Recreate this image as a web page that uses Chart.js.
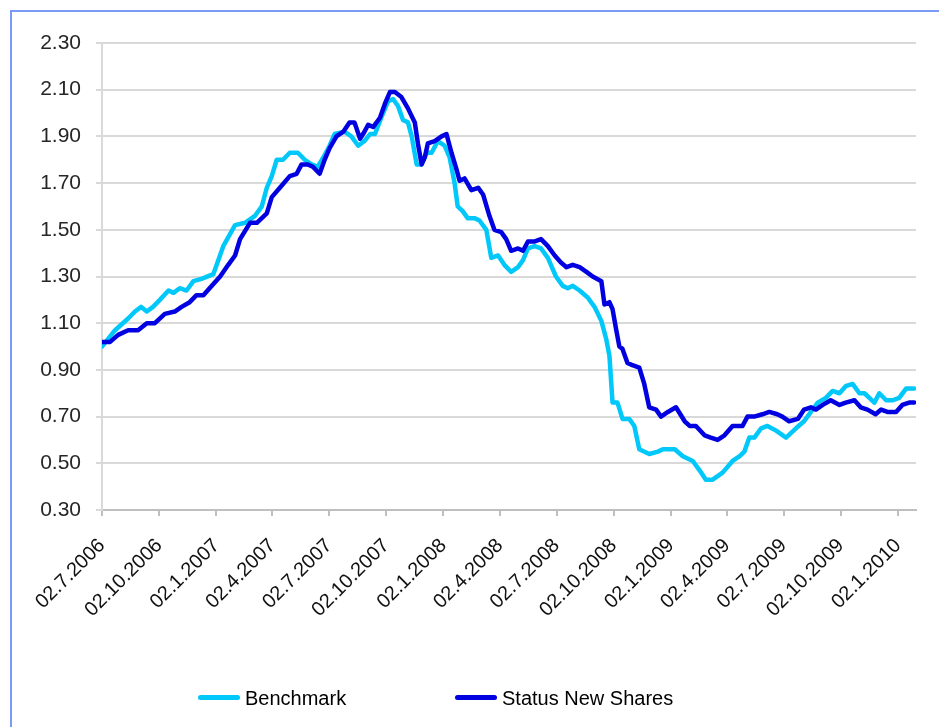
<!DOCTYPE html>
<html>
<head>
<meta charset="utf-8">
<script src="https://cdn.jsdelivr.net/npm/chart.js@4/dist/chart.umd.min.js"></script>
<style>
  html, body { margin: 0; padding: 0; background: #fff; overflow: hidden; }
  #wrap { position: relative; width: 939px; height: 727px; }
  #chart { position: absolute; left: 0; top: 0; }
  .leg { position: absolute; top: 686px; height: 24px; line-height: 24px;
         font-family: 'Liberation Sans', Arial, sans-serif; font-size: 20px; color: #000; white-space: nowrap; }
  .leg .swatch { position: absolute; top: 9px; width: 42px; height: 5px; border-radius: 3px; }
  .leg .txt { position: absolute; left: 47px; top: 0; }
</style>
</head>
<body>
<div id="wrap">
  <canvas id="chart" width="939" height="727"></canvas>
  <div class="leg" style="left:198px"><span class="swatch" style="background:#00C8FA"></span><span class="txt">Benchmark</span></div>
  <div class="leg" style="left:455px"><span class="swatch" style="background:#0000E0"></span><span class="txt">Status New Shares</span></div>
</div>
<script>
// ── Data (x = days since 02.7.2006) ────────────────────────────────────────
const START = Date.UTC(2006, 6, 2);

const xTickLabels = ['02.7.2006', '02.10.2006', '02.1.2007', '02.4.2007', '02.7.2007',
  '02.10.2007', '02.1.2008', '02.4.2008', '02.7.2008', '02.10.2008', '02.1.2009',
  '02.4.2009', '02.7.2009', '02.10.2009', '02.1.2010'];

const benchDays = [
  0, 21, 42, 53, 63, 72, 82, 93, 107, 115,
  125, 136, 147, 160, 179, 195, 214, 230, 246, 257,
  265, 273, 281, 291, 302, 315, 326, 337, 347, 358,
  366, 374, 390, 401, 412, 422, 431, 439, 449, 460,
  468, 476, 484, 492, 498, 506, 514, 522, 530, 540,
  551, 559, 567, 572, 580, 588, 599, 607, 618, 626,
  637, 647, 658, 669, 677, 685, 696, 706, 717, 730,
  741, 749, 757, 768, 781, 792, 803, 811, 816, 821,
  829, 837, 848, 856, 864, 880, 894, 902, 921, 934,
  950, 961, 971, 982, 998, 1014, 1025, 1033, 1041, 1049,
  1060, 1070, 1084, 1100, 1116, 1129, 1140, 1151, 1164, 1175,
  1186, 1196, 1207, 1218, 1226, 1234, 1242, 1250, 1261, 1271,
  1282, 1293, 1306];
const benchValues = [
  1.00, 1.07, 1.12, 1.15, 1.17, 1.15, 1.17, 1.20, 1.24, 1.23,
  1.25, 1.24, 1.28, 1.29, 1.31, 1.43, 1.52, 1.53, 1.56, 1.60,
  1.68, 1.73, 1.80, 1.80, 1.83, 1.83, 1.80, 1.78, 1.77, 1.82,
  1.86, 1.91, 1.92, 1.90, 1.86, 1.88, 1.91, 1.91, 1.98, 2.05,
  2.06, 2.03, 1.97, 1.96, 1.90, 1.78, 1.78, 1.83, 1.83, 1.88,
  1.86, 1.81, 1.70, 1.60, 1.58, 1.55, 1.55, 1.54, 1.50, 1.38,
  1.39, 1.35, 1.32, 1.34, 1.37, 1.42, 1.43, 1.42, 1.38, 1.30,
  1.26, 1.25, 1.26, 1.24, 1.21, 1.17, 1.11, 1.03, 0.96, 0.76,
  0.76, 0.69, 0.69, 0.66, 0.56, 0.54, 0.55, 0.56, 0.56, 0.53,
  0.51, 0.47, 0.43, 0.43, 0.46, 0.51, 0.53, 0.55, 0.61, 0.61,
  0.65, 0.66, 0.64, 0.61, 0.65, 0.68, 0.72, 0.76, 0.78, 0.81,
  0.80, 0.83, 0.84, 0.80, 0.80, 0.78, 0.76, 0.80, 0.77, 0.77,
  0.78, 0.82, 0.82];

const statusDays = [
  0, 13, 26, 42, 58, 72, 85, 101, 117, 128,
  141, 152, 163, 173, 190, 203, 214, 222, 238, 249,
  265, 273, 286, 302, 313, 321, 331, 339, 350, 358,
  366, 377, 388, 398, 406, 415, 422, 428, 436, 447,
  455, 463, 471, 481, 492, 503, 508, 514, 519, 524,
  535, 546, 554, 562, 570, 575, 583, 594, 605, 613,
  623, 631, 642, 650, 658, 669, 677, 685, 696, 706,
  717, 728, 738, 747, 757, 768, 779, 789, 803, 808,
  816, 821, 827, 832, 837, 845, 853, 864, 872, 880,
  891, 899, 910, 923, 937, 945, 955, 969, 979, 990,
  1001, 1014, 1030, 1038, 1049, 1062, 1073, 1086, 1094, 1105,
  1119, 1129, 1140, 1148, 1159, 1172, 1186, 1196, 1210, 1220,
  1231, 1244, 1253, 1263, 1277, 1287, 1298, 1306];
const statusValues = [
  1.02, 1.02, 1.05, 1.07, 1.07, 1.10, 1.10, 1.14, 1.15, 1.17,
  1.19, 1.22, 1.22, 1.25, 1.30, 1.35, 1.39, 1.46, 1.53, 1.53,
  1.57, 1.64, 1.68, 1.73, 1.74, 1.78, 1.78, 1.77, 1.74, 1.80,
  1.85, 1.90, 1.92, 1.96, 1.96, 1.89, 1.92, 1.95, 1.94, 1.98,
  2.04, 2.09, 2.09, 2.07, 2.02, 1.96, 1.87, 1.78, 1.81, 1.87,
  1.88, 1.90, 1.91, 1.83, 1.76, 1.71, 1.72, 1.67, 1.68, 1.65,
  1.56, 1.50, 1.49, 1.46, 1.41, 1.42, 1.41, 1.45, 1.45, 1.46,
  1.43, 1.39, 1.36, 1.34, 1.35, 1.34, 1.32, 1.30, 1.28, 1.18,
  1.19, 1.16, 1.07, 1.00, 0.99, 0.93, 0.92, 0.91, 0.84, 0.74,
  0.73, 0.70, 0.72, 0.74, 0.68, 0.66, 0.66, 0.62, 0.61, 0.60,
  0.62, 0.66, 0.66, 0.70, 0.70, 0.71, 0.72, 0.71, 0.70, 0.68,
  0.69, 0.73, 0.74, 0.73, 0.75, 0.77, 0.75, 0.76, 0.77, 0.74,
  0.73, 0.71, 0.73, 0.72, 0.72, 0.75, 0.76, 0.76];

// "02.10.2006" -> days since START
function labelToDay(s) {
  const [d, m, y] = s.split('.').map(Number);
  return Math.round((Date.UTC(y, m - 1, d) - START) / 86400000);
}
const tickDays = xTickLabels.map(labelToDay);

const FONT = "'Liberation Sans', Arial, sans-serif";

// thin blue frame along the top and left edge
const framePlugin = {
  id: 'frame',
  afterDraw(chart) {
    const ctx = chart.ctx;
    ctx.save();
    ctx.strokeStyle = '#7a9af5';
    ctx.lineWidth = 2;
    ctx.beginPath();
    ctx.moveTo(11, 727);
    ctx.lineTo(11, 11);
    ctx.lineTo(939, 11);
    ctx.stroke();
    ctx.restore();
  }
};

new Chart(document.getElementById('chart'), {
  type: 'line',
  data: {
    datasets: [
      {
        label: 'Status New Shares',
        data: statusDays.map((d, i) => ({ x: d, y: statusValues[i] })),
        borderColor: '#0000E0',
        backgroundColor: '#0000E0',
        order: 0
      },
      {
        label: 'Benchmark',
        data: benchDays.map((d, i) => ({ x: d, y: benchValues[i] })),
        borderColor: '#00C8FA',
        backgroundColor: '#00C8FA',
        order: 1
      }
    ]
  },
  options: {
    responsive: false,
    animation: false,
    elements: {
      line: { borderWidth: 4.5, tension: 0, borderJoinStyle: 'round', borderCapStyle: 'round' },
      point: { radius: 0, hoverRadius: 0 }
    },
    layout: { padding: { left: 0, top: 43, right: 23, bottom: 0 } },
    plugins: { legend: { display: false }, tooltip: { enabled: false } },
    scales: {
      x: {
        type: 'linear',
        min: 0,
        max: 1309,
        afterBuildTicks: s => { s.ticks = tickDays.map(v => ({ value: v })); },
        afterFit: s => { s.height = 217; },
        grid: { drawOnChartArea: false, drawTicks: true, tickLength: 6, color: '#bfbfbf', lineWidth: 2 },
        border: { color: '#bfbfbf', width: 2 },
        ticks: {
          autoSkip: false,
          minRotation: 45,
          maxRotation: 45,
          padding: 18,
          color: '#111',
          font: { family: FONT, size: 20 },
          callback: (v, i) => xTickLabels[i]
        }
      },
      y: {
        min: 0.3,
        max: 2.3,
        afterFit: s => { s.width = 102; },
        grid: { color: '#d9d9d9', lineWidth: 2, tickLength: 6 },
        border: { color: '#d9d9d9', width: 2 },
        ticks: {
          stepSize: 0.2,
          padding: 15,
          color: '#262626',
          font: { family: FONT, size: 21 },
          callback: v => v.toFixed(2)
        }
      }
    }
  },
  plugins: [framePlugin]
});
</script>
</body>
</html>
